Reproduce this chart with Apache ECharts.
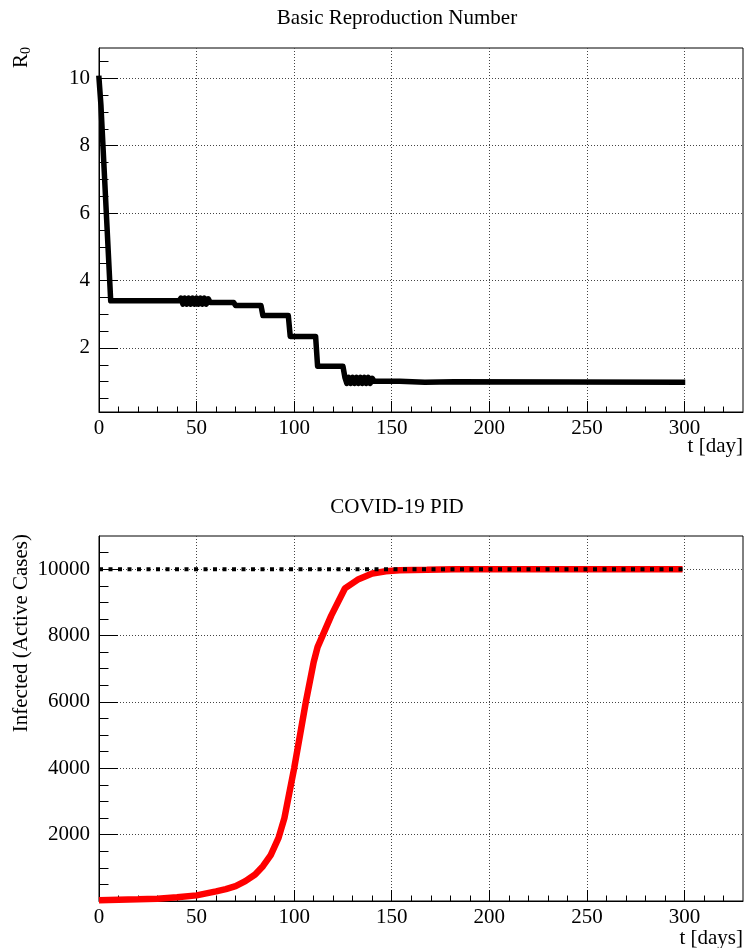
<!DOCTYPE html>
<html>
<head>
<meta charset="utf-8">
<script src="https://cdn.jsdelivr.net/npm/echarts@6/dist/echarts.min.js"></script>
<style>
  html, body { margin: 0; padding: 0; background: #fff; }
  #chart { width: 744px; height: 948px; }
</style>
</head>
<body>
<div id="chart"></div>
<script type="text/javascript">
// R0 step curve; the two dense blocks oscillate day by day
var r0Days = [0, 1, 6, 41,
  42, 43, 44, 45, 46, 47, 48, 49, 50, 51, 52, 53, 54, 55, 56,
  57, 69, 70, 83, 84, 97, 98, 111, 112, 125,
  126, 127, 128, 129, 130, 131, 132, 133, 134, 135, 136, 137, 138, 139, 140,
  141, 154, 155, 167, 168, 182, 183, 299];
var r0Values = [10, 9.2, 3.4, 3.4,
  3.48, 3.3, 3.48, 3.3, 3.48, 3.3, 3.48, 3.3, 3.48, 3.3, 3.48, 3.3, 3.48, 3.3, 3.46,
  3.35, 3.35, 3.26, 3.26, 2.96, 2.96, 2.34, 2.34, 1.46, 1.46,
  1.13, 0.95, 1.13, 0.95, 1.13, 0.95, 1.13, 0.95, 1.13, 0.95, 1.13, 0.95, 1.13, 0.95, 1.1,
  1.01, 1.01, 0.98, 0.98, 1.0, 1.0, 0.98, 0.98];

// active cases (lower panel)
var caseDays = [0, 10, 20, 30, 40, 50, 60, 65, 70, 75, 80, 84, 88, 92, 95, 97, 100, 103, 106, 110, 112,
  119, 126, 133, 140, 147, 154, 168, 182, 200, 250, 299];
var caseValues = [20, 35, 50, 70, 110, 170, 290, 360, 450, 600, 800, 1050, 1380, 1900, 2500, 3100, 4000, 5000, 6000, 7200, 7650,
  8600, 9420, 9700, 9870, 9940, 9970, 9980, 10000, 10000, 10000, 10000];

// set point
var targetDays = [0, 299];
var targetValues = [10000, 10000];

// tick values
var xMajor = [0, 50, 100, 150, 200, 250, 300];
var xMinor = [10, 20, 30, 40, 60, 70, 80, 90, 110, 120, 130, 140, 160, 170, 180, 190,
  210, 220, 230, 240, 260, 270, 280, 290, 310, 320];
var r0Major = [2, 4, 6, 8, 10];
var r0Minor = [0.5, 1, 1.5, 2.5, 3, 3.5, 4.5, 5, 5.5, 6.5, 7, 7.5, 8.5, 9, 9.5, 10.5];
var caseMajor = [2000, 4000, 6000, 8000, 10000];
var caseMinor = [500, 1000, 1500, 2500, 3000, 3500, 4500, 5000, 5500, 6500, 7000, 7500,
  8500, 9000, 9500, 10500];

function zip(a, b) {
  var out = [];
  for (var i = 0; i < a.length; i++) out.push([a[i], b[i]]);
  return out;
}

var FONT = 'Liberation Serif';
var gridLine = { show: true, lineStyle: { color: '#444', width: 1, type: [1, 2] } };
var labelStyle = { color: '#000', fontFamily: FONT, fontSize: 21, formatter: function (v) { return String(v); } };

function mainX(grid) {
  return {
    type: 'value', gridIndex: grid, position: 'bottom', min: 0, max: 330,
    axisLine: { show: true, onZero: false, lineStyle: { color: '#000', width: 1 } },
    axisTick: { show: true, inside: true, length: 11, customValues: xMajor, lineStyle: { color: '#000' } },
    axisLabel: Object.assign({ margin: 6, customValues: xMajor }, labelStyle),
    splitLine: Object.assign({ customValues: xMajor }, gridLine)
  };
}
function minorX(grid) {
  return {
    type: 'value', gridIndex: grid, position: 'bottom', min: 0, max: 330,
    axisLine: { show: false, onZero: false },
    axisTick: { show: true, inside: true, length: 5.5, customValues: xMinor, lineStyle: { color: '#000' } },
    axisLabel: { show: false },
    splitLine: { show: false }
  };
}
function mainY(grid, min, max, major) {
  return {
    type: 'value', gridIndex: grid, position: 'left', min: min, max: max,
    axisLine: { show: true, onZero: false, lineStyle: { color: '#000', width: 1 } },
    axisTick: { show: true, inside: true, length: 19, customValues: major, lineStyle: { color: '#000' } },
    axisLabel: Object.assign({ margin: 9, customValues: major }, labelStyle),
    splitLine: Object.assign({ customValues: major }, gridLine)
  };
}
function minorY(grid, min, max, minor) {
  return {
    type: 'value', gridIndex: grid, position: 'left', min: min, max: max,
    axisLine: { show: false, onZero: false },
    axisTick: { show: true, inside: true, length: 9.5, customValues: minor, lineStyle: { color: '#000' } },
    axisLabel: { show: false },
    splitLine: { show: false }
  };
}

var myChart = echarts.init(document.getElementById('chart'));
var option = {
  animation: false,
  backgroundColor: '#fff',
  grid: [
    { left: 99, top: 48, width: 644, height: 364, show: true, borderColor: '#000', borderWidth: 1, backgroundColor: 'transparent' },
    { left: 99, top: 536, width: 644, height: 365, show: true, borderColor: '#000', borderWidth: 1, backgroundColor: 'transparent' }
  ],
  xAxis: [mainX(0), minorX(0), mainX(1), minorX(1)],
  yAxis: [
    mainY(0, 0.1, 10.9, r0Major), minorY(0, 0.1, 10.9, r0Minor),
    mainY(1, 0, 11000, caseMajor), minorY(1, 0, 11000, caseMinor)
  ],
  graphic: [
    { type: 'text', x: 397, y: 18, style: { text: 'Basic Reproduction Number', fontFamily: FONT, fontSize: 21, fill: '#000', align: 'center', verticalAlign: 'middle' } },
    { type: 'text', x: 397, y: 507, style: { text: 'COVID-19 PID', fontFamily: FONT, fontSize: 21, fill: '#000', align: 'center', verticalAlign: 'middle' } },
    { type: 'text', x: 743, y: 446, style: { text: 't [day]', fontFamily: FONT, fontSize: 21, fill: '#000', align: 'right', verticalAlign: 'middle' } },
    { type: 'text', x: 743, y: 938, style: { text: 't [days]', fontFamily: FONT, fontSize: 21, fill: '#000', align: 'right', verticalAlign: 'middle' } },
    { type: 'text', x: 21, y: 47, rotation: Math.PI / 2, style: {
        text: '{r|R}{s|0}', fill: '#000', align: 'right', verticalAlign: 'middle',
        rich: {
          r: { fontFamily: FONT, fontSize: 21, fill: '#000', lineHeight: 24 },
          s: { fontFamily: FONT, fontSize: 14, fill: '#000', lineHeight: 24, padding: [10, 0, 0, 0] }
        } } },
    { type: 'text', x: 21, y: 534, rotation: Math.PI / 2, style: { text: 'Infected (Active Cases)', fontFamily: FONT, fontSize: 21, fill: '#000', align: 'right', verticalAlign: 'middle' } }
  ],
  series: [
    {
      name: 'R0', type: 'line', xAxisIndex: 0, yAxisIndex: 0,
      data: zip(r0Days, r0Values), showSymbol: false, symbol: 'none', sampling: 'none',
      lineStyle: { color: '#000', width: 5.5, join: 'round', cap: 'square' }, z: 3
    },
    {
      name: 'Infected', type: 'line', xAxisIndex: 2, yAxisIndex: 2,
      data: zip(caseDays, caseValues), showSymbol: false, symbol: 'none',
      lineStyle: { color: '#ff0000', width: 6.5 }, z: 3
    },
    {
      name: 'Target', type: 'line', xAxisIndex: 2, yAxisIndex: 2,
      data: zip(targetDays, targetValues), showSymbol: false, symbol: 'none',
      lineStyle: { color: '#000', width: 4, type: [4, 5.5] }, z: 4
    }
  ]
};
myChart.setOption(option);
</script>
</body>
</html>
